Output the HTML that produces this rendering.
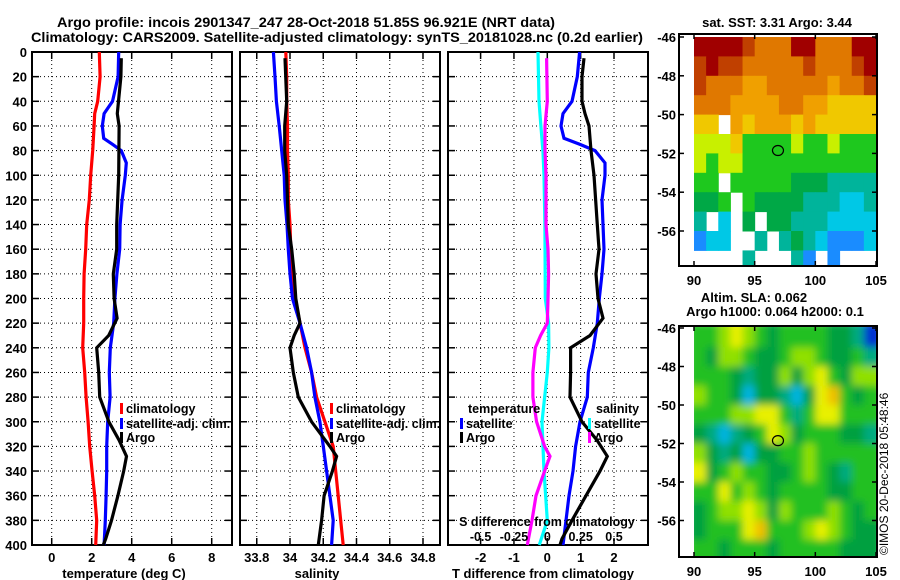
<!DOCTYPE html>
<html><head><meta charset="utf-8"><title>Argo profile</title>
<style>
html,body{margin:0;padding:0;background:#fff;}
svg{display:block;font-family:"Liberation Sans",Arial,sans-serif;font-weight:bold;}
text{fill:#000;}
</style></head>
<body>
<svg id="chart" width="900" height="580" viewBox="0 0 900 580" xmlns="http://www.w3.org/2000/svg">
<text x="306" y="27" font-size="14" text-anchor="middle" textLength="498" lengthAdjust="spacingAndGlyphs">Argo profile: incois 2901347_247 28-Oct-2018 51.85S 96.921E (NRT data)</text>
<text x="337" y="42" font-size="14" text-anchor="middle" textLength="612" lengthAdjust="spacingAndGlyphs">Climatology: CARS2009. Satellite-adjusted climatology: synTS_20181028.nc (0.2d earlier)</text>
<text x="777" y="27" font-size="13" text-anchor="middle">sat. SST: 3.31 Argo: 3.44</text>
<text x="754" y="302" font-size="13" text-anchor="middle">Altim. SLA: 0.062</text>
<text x="775" y="316" font-size="13" text-anchor="middle">Argo h1000: 0.064 h2000: 0.1</text>
<text transform="translate(888,555) rotate(-90)" font-size="12" font-weight="normal" style="font-weight:normal">©IMOS 20-Dec-2018 05:48:46</text>
<g id="layer"></g>
</svg>
<script>
// ---------- data ----------
const depthTicks = [0,20,40,60,80,100,120,140,160,180,200,220,240,260,280,300,320,340,360,380,400];
const tempTicks = [0,2,4,6,8];
const salTicks = [33.8,34,34.2,34.4,34.6,34.8];
const salTickLabels = ["33.8","34","34.2","34.4","34.6","34.8"];
const tdiffTicks = [-2,-1,0,1,2];
const sdiffTicks = [-0.5,-0.25,0,0.25,0.5];
const sdiffTickLabels = ["-0.5","-0.25","0","0.25","0.5"];

const tClimDepth = [0,20,40,50,60,80,100,120,140,160,180,200,220,240,260,280,300,320,340,360,380,400];
const tClimVal   = [2.38,2.42,2.3,2.15,2.12,2.05,1.95,1.88,1.75,1.7,1.62,1.6,1.6,1.55,1.65,1.72,1.82,1.9,2.02,2.15,2.25,2.2];
const tSatDepth  = [0,20,40,50,60,70,75,80,90,100,120,140,160,180,200,220,240,260,280,300,320,340,360,380,400];
const tSatVal    = [3.35,3.32,3.04,2.62,2.53,2.6,3.05,3.48,3.73,3.68,3.52,3.42,3.4,3.26,3.16,3.1,2.93,2.88,2.92,2.8,2.75,2.75,2.72,2.68,2.62];
const tArgoDepth = [5,20,40,50,60,80,100,140,160,180,200,216,230,240,260,280,300,315,328,340,360,380,395,400];
const tArgoVal   = [3.48,3.46,3.34,3.28,3.37,3.36,3.35,3.25,3.25,3.08,3.12,3.27,2.85,2.25,2.35,2.4,2.86,3.37,3.74,3.6,3.31,2.99,2.7,2.58];

const sClimDepth = [0,20,40,60,80,100,120,140,160,180,200,220,240,260,280,300,320,340,360,380,400];
const sClimVal   = [33.975,33.98,33.98,33.985,33.985,33.99,33.99,34.0,34.005,34.015,34.03,34.06,34.09,34.13,34.16,34.21,34.26,34.275,34.29,34.305,34.32];
const sSatDepth  = [0,20,40,60,80,100,120,140,160,180,200,220,240,260,280,300,320,340,360,380,400];
const sSatVal    = [33.9,33.91,33.918,33.935,33.95,33.965,33.97,33.982,33.99,34.0,34.015,34.06,34.1,34.13,34.15,34.18,34.2,34.22,34.24,34.26,34.25];
const sArgoDepth = [5,40,60,80,100,140,160,180,200,220,230,240,260,280,300,320,328,340,360,380,400];
const sArgoVal   = [33.97,33.98,33.968,33.968,33.98,33.99,34.01,34.025,34.035,34.06,34.025,34.0,34.02,34.05,34.13,34.24,34.28,34.255,34.205,34.19,34.17];

const dTSatDepth = [0,20,40,50,60,70,75,80,90,100,120,140,160,180,200,220,240,260,280,300,320,340,360,380,400];
const dTSatVal   = [0.97,0.9,0.74,0.47,0.41,0.5,0.98,1.43,1.73,1.73,1.64,1.67,1.7,1.64,1.56,1.5,1.38,1.23,1.2,0.98,0.85,0.77,0.65,0.56,0.47];
const dTArgoDepth = [5,20,40,50,60,80,100,140,160,180,200,216,230,240,260,280,300,315,328,340,360,380,395,400];
const dTArgoVal   = [1.1,1.04,1.04,1.13,1.25,1.31,1.4,1.5,1.55,1.46,1.52,1.67,1.28,0.7,0.7,0.68,1.04,1.49,1.8,1.58,1.16,0.74,0.44,0.38];
const dSSatDepth = [0,20,40,60,80,100,140,200,220,240,260,300,340,380,400];
const dSSatVal   = [-0.07,-0.066,-0.062,-0.048,-0.033,-0.025,-0.018,-0.015,0.01,0.012,0.0,-0.04,-0.025,0.0,-0.06];
const dSArgoDepth = [5,40,60,80,100,140,160,180,200,220,230,240,260,280,300,320,328,340,360,380,400];
const dSArgoVal   = [-0.005,0,-0.017,-0.017,-0.01,-0.01,0.005,0.01,0.005,0.0,-0.05,-0.09,-0.108,-0.108,-0.08,-0.02,0.02,-0.02,-0.085,-0.115,-0.15];

const mapLons = [90,91,92,93,94,95,96,97,98,99,100,101,102,103,104];
const mapLats = [-46,-47,-48,-49,-50,-51,-52,-53,-54,-55,-56,-57];
const sstGrid = [
 [9,9,9,9,8,7,7,7,9,9,7,7,7,9,9],
 [8,9,8,8,7,7,7,7,7,8,7,7,7,8,9],
 [8,7,7,7,6,6,7,7,7,7,7,6,7,7,8],
 [7,7,7,6,6,6,6,7,7,6,6,5,5,5,5],
 [5,5,null,6,5,6,6,6,5,6,5,5,5,5,5],
 [4,4,4,5,3,3,3,3,4,3,3,4,3,3,3],
 [4,3,4,4,3,3,3,3,3,3,3,3,3,3,3],
 [3,3,null,3,3,3,3,3,2,2,2,1,1,1,1],
 [2,2,3,null,3,2,2,2,2,1,1,1,0.5,0.5,1],
 [1,null,0.5,null,2,null,2,2,1,1,1,0.5,0.5,0.5,0.5],
 [0,0.5,0.5,null,null,1,null,1,2,1,0.5,0,0,0,0.5],
 [null,null,null,null,1,null,null,null,1,0,null,0,null,null,null]
];
const slaGrid = [
 [4,4,5,6,5,4,3,4,4,4,4,3,3,2,0],
 [4,3,5,5,4,3,3,4,5,5,4,3,3,4,2],
 [4,4,4,3,2,3,3,5,3,5,6,4,3,5,5],
 [5,4,4,3,1,3,3,2,1,3,6,7,4,3,4],
 [4,4,4,5,5,6,6,4,2,4,6,6,4,4,4],
 [3,2,1,2,3,4,6,5,3,4,4,4,3,3,2],
 [5,3,2,3,1,3,3,4,4,5,4,4,4,4,4],
 [6,3,4,5,4,4,3,3,4,5,4,3,2,4,4],
 [4,4,6,4,5,4,3,4,4,4,4,3,3,4,4],
 [3,4,5,5,6,5,3,5,4,4,4,5,4,3,4],
 [3,4,4,4,6,7,4,4,4,5,6,5,4,3,3],
 [4,4,3,4,4,4,3,4,4,4,4,4,3,3,3]
];
const mapLatTicks = [-46,-48,-50,-52,-54,-56];
const mapLonTicks = [90,95,100,105];
const argoLon = 96.921, argoLat = -51.85;

// ---------- drawing ----------
const NS = "http://www.w3.org/2000/svg";
const layer = document.getElementById('layer');
function mk(tag, attrs, parent){
  const e = document.createElementNS(NS, tag);
  for (const k in attrs) e.setAttribute(k, attrs[k]);
  (parent||layer).appendChild(e);
  return e;
}
const Y0 = 52, Y1 = 545;
const yD = d => Y0 + d*(Y1-Y0)/400;

function linScale(d0,d1,r0,r1){ return v => r0 + (v-d0)*(r1-r0)/(d1-d0); }

function panel(name, x0, x1, xs, ticks, labels){
  const g = mk('g', {});
  
  
  // grid
  depthTicks.forEach(d => {
    if (d===0 || d===400) return;
    const l = mk('line', {x1:x0, x2:x1, y1:yD(d), y2:yD(d), stroke:'#000','stroke-width':1,'stroke-dasharray':'1,3'}, g);
    
    
    mk('line', {x1:x0, x2:x0+7, y1:yD(d), y2:yD(d), stroke:'#000','stroke-width':1.5}, g);
    mk('line', {x1:x1-7, x2:x1, y1:yD(d), y2:yD(d), stroke:'#000','stroke-width':1.5}, g);
  });
  ticks.forEach((t,i) => {
    const x = xs(t);
    const l = mk('line', {x1:x, x2:x, y1:Y0, y2:Y1, stroke:'#000','stroke-width':1,'stroke-dasharray':'1,3'}, g);
    
    
    mk('line', {x1:x, x2:x, y1:Y0, y2:Y0+7, stroke:'#000','stroke-width':1.5}, g);
    mk('line', {x1:x, x2:x, y1:Y1-7, y2:Y1, stroke:'#000','stroke-width':1.5}, g);
    const tx = mk('text', {x:x, y:562, 'font-size':13, 'text-anchor':'middle'}, g);
    tx.textContent = labels[i];
    
    
  });
  const fr = mk('rect', {x:x0, y:Y0, width:x1-x0, height:Y1-Y0, fill:'none', stroke:'#000','stroke-width':2}, g);
  
  
  return g;
}
function series(g, name, depths, vals, xs, color){
  const pts = depths.map((d,i) => xs(vals[i]).toFixed(1)+','+yD(d).toFixed(1)).join(' ');
  const p = mk('polyline', {points:pts, fill:'none', stroke:color, 'stroke-width':3.2,'stroke-linejoin':'miter'}, g);
  
  
}
function label(txt, x, y, size, anchor, name){
  const t = mk('text', {x:x, y:y, 'font-size':size, 'text-anchor':anchor||'start'});
  t.textContent = txt;
  
  
  return t;
}
function legendEntry(x, y, color, txt, name, textLeft){
  const b = mk('rect', {x:x, y:y-10, width:3, height:11, fill:color});
  
  
  label(txt, x+6, y, 12.5, 'start', name);
}

// Panel 1: temperature
const xT = linScale(-1, 9, 31.7, 231.7);
const g1 = panel('temperature-panel', 32, 232, xT, tempTicks, tempTicks.map(String));
depthTicks.forEach(d => {
  const t = mk('text', {x:27, y:yD(d)+5, 'font-size':13, 'text-anchor':'end'});
  t.textContent = String(d);
  
  
});
series(g1, 'temp-climatology-line', tClimDepth, tClimVal, xT, '#ff0000');
series(g1, 'temp-satellite-line', tSatDepth, tSatVal, xT, '#0000ff');
series(g1, 'temp-argo-line', tArgoDepth, tArgoVal, xT, '#000000');
label('temperature (deg C)', 124, 578, 13, 'middle', 'x-axis-title-temperature');
legendEntry(120, 413, '#ff0000', 'climatology', 'legend-climatology');
legendEntry(120, 428, '#0000ff', 'satellite-adj. clim.', 'legend-satellite');
legendEntry(120, 442, '#000000', 'Argo', 'legend-argo');

// Panel 2: salinity
const xS = linScale(34.0, 34.8, 290, 423);
const g2 = panel('salinity-panel', 240, 440, xS, salTicks, salTickLabels);
series(g2, 'sal-climatology-line', sClimDepth, sClimVal, xS, '#ff0000');
series(g2, 'sal-satellite-line', sSatDepth, sSatVal, xS, '#0000ff');
series(g2, 'sal-argo-line', sArgoDepth, sArgoVal, xS, '#000000');
label('salinity', 317, 578, 13, 'middle', 'x-axis-title-salinity');
legendEntry(330, 413, '#ff0000', 'climatology', 'legend-climatology-s');
legendEntry(330, 428, '#0000ff', 'satellite-adj. clim.', 'legend-satellite-s');
legendEntry(330, 442, '#000000', 'Argo', 'legend-argo-s');

// Panel 3: differences
const xDT = linScale(0, 2, 547.3, 614);
const xDS = linScale(0, 0.5, 547.3, 614);
const g3 = panel('difference-panel', 448, 648, xDT, tdiffTicks, tdiffTicks.map(String));
series(g3, 'sdiff-satellite-line', dSSatDepth, dSSatVal, xDS, '#00ffff');
series(g3, 'sdiff-argo-line', dSArgoDepth, dSArgoVal, xDS, '#ff00ff');
series(g3, 'tdiff-satellite-line', dTSatDepth, dTSatVal, xDT, '#0000ff');
series(g3, 'tdiff-argo-line', dTArgoDepth, dTArgoVal, xDT, '#000000');
label('T difference from climatology', 543, 578, 13, 'middle', 'x-axis-title-tdiff');
label('S difference from climatology', 547, 526, 12.5, 'middle', 'secondary-axis-title-sdiff');
sdiffTicks.forEach((s,i) => label(sdiffTickLabels[i], xDS(s), 541, 12.5, 'middle', 'sdiff-tick-label'));
label('temperature', 468, 413, 12.5, 'start', 'legend-title-temperature');
legendEntry(460, 428, '#0000ff', 'satellite', 'legend-tdiff-satellite');
legendEntry(460, 442, '#000000', 'Argo', 'legend-tdiff-argo');
label('salinity', 596, 413, 12.5, 'start', 'legend-title-salinity');
legendEntry(588, 428, '#00ffff', 'satellite', 'legend-sdiff-satellite');
legendEntry(588, 442, '#ff00ff', 'Argo', 'legend-sdiff-argo');

// ---------- maps ----------
function ramp(stops){
  return v => {
    if (v <= stops[0][0]) return stops[0][1];
    for (let i=1;i<stops.length;i++){
      if (v <= stops[i][0]){
        const a = stops[i-1], b = stops[i], f = (v-a[0])/(b[0]-a[0]);
        const c = [0,1,2].map(k => Math.round(a[1][k] + f*(b[1][k]-a[1][k])));
        return 'rgb('+c.join(',')+')';
      }
    }
    return stops[stops.length-1][1];
  };
}
function rgbStops(list){ return list.map(s => [s[0], s[1]]); }
const sstStops = [[0,[26,140,255]],[0.5,[0,200,230]],[1,[0,180,155]],[2,[0,168,70]],[3,[30,200,30]],[4,[200,240,0]],[5,[240,200,0]],[6,[240,160,0]],[7,[224,120,0]],[8,[192,64,0]],[9,[160,0,0]]];
const slaStops = [[0,[0,48,208]],[1,[0,180,224]],[2,[0,170,128]],[3,[0,160,64]],[4,[32,192,32]],[5,[144,224,0]],[6,[232,240,0]],[7,[240,192,0]]];
function toColor(stops){
  const f = ramp(stops);
  return v => { const r = f(v); return Array.isArray(r) ? 'rgb('+r.join(',')+')' : r; };
}
const sstColor = toColor(sstStops);
const slaColor = toColor(slaStops);

function drawMap(name, top, bottom, latTop, pxPerDeg, grid, colorFn, blur){
  const xL = linScale(90, 105, 694, 876);
  const yL = lat => top + (-46 - lat)*pxPerDeg + (latTop);
  const g = mk('g', {});
  
  
  const clipId = name+'-clip';
  const defs = mk('defs', {}, g);
  const cp = mk('clipPath', {id:clipId}, defs);
  mk('rect', {x:694, y:top, width:183, height:bottom-top}, cp);
  if (blur){
    const f = mk('filter', {id:name+'-blur', x:'-5%', y:'-5%', width:'110%', height:'110%'}, defs);
    mk('feGaussianBlur', {stdDeviation:4}, f);
  }
  const inner = mk('g', {'clip-path':'url(#'+clipId+')'}, g);
  const cells = mk('g', blur ? {filter:'url(#'+name+'-blur)'} : {}, inner);
  grid.forEach((row, r) => {
    row.forEach((v, c) => {
      if (v === null) return;
      const lon = mapLons[c], lat = mapLats[r];
      const x0 = xL(lon), x1 = xL(lon+1);
      const y0 = yL(lat), y1 = yL(lat-1);
      const pad = blur ? 6 : 0;
      const cell = mk('rect', {x:x0-(c===0?pad:0), y:y0-(r===0?pad:0), width:x1-x0+0.5+(c===0||c===row.length-1?pad:0), height:y1-y0+0.5+(r===0||r===grid.length-1?pad*2:0), fill:colorFn(v)}, cells);
      
      
    });
  });
  const fr = mk('rect', {x:679, y:top, width:198, height:bottom-top, fill:'none', stroke:'#000', 'stroke-width':2}, g);
  
  
  mapLatTicks.forEach(lat => {
    const y = yL(lat);
    mk('line', {x1:679, x2:684, y1:y, y2:y, stroke:'#000','stroke-width':1.5}, g);
    mk('line', {x1:872, x2:877, y1:y, y2:y, stroke:'#000','stroke-width':1.5}, g);
    const t = mk('text', {x:676, y:y+5, 'font-size':13, 'text-anchor':'end'}, g);
    t.textContent = String(lat);
    
    
  });
  mapLonTicks.forEach(lon => {
    const x = xL(lon);
    mk('line', {x1:x, x2:x, y1:top, y2:top+5, stroke:'#000','stroke-width':1.5}, g);
    mk('line', {x1:x, x2:x, y1:bottom-5, y2:bottom, stroke:'#000','stroke-width':1.5}, g);
    const t = mk('text', {x:x, y:bottom+19, 'font-size':13, 'text-anchor':'middle'}, g);
    t.textContent = String(lon);
    
    
  });
  const m = mk('ellipse', {cx:xL(argoLon), cy:yL(argoLat), rx:5.5, ry:5, fill:'none', stroke:'#000','stroke-width':1.2}, g);
  
  
}
drawMap('sst-map', 34, 266, 3, 19.4, sstGrid, sstColor, false);
drawMap('sla-map', 326, 557, 2, 19.25, slaGrid, slaColor, true);
</script>
</body></html>
